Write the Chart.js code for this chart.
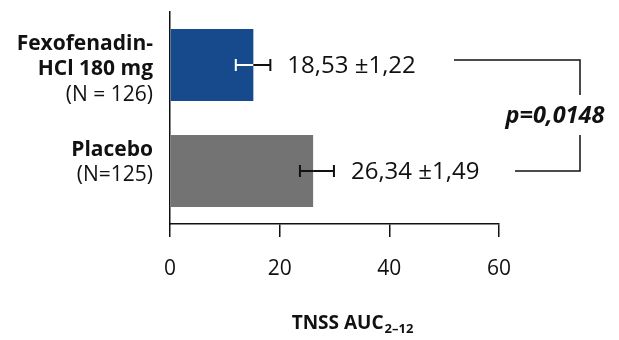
<!DOCTYPE html>
<html>
<head>
<meta charset="utf-8">
<script src="https://cdn.jsdelivr.net/npm/chart.js@4.4.1/dist/chart.umd.min.js"></script>
<style>
  html, body { margin: 0; padding: 0; background: #fff; }
</style>
</head>
<body>
<canvas id="myChart" width="619" height="340"></canvas>
<script>
// data (bar lengths as drawn, labels as printed)
const categoryNames = [['Fexofenadin-', 'HCl 180 mg'], ['Placebo']];
const categoryN = ['(N = 126)', '(N=125)'];
const barValues = [15.2, 26.1];
const errorLow = [12.0, 23.7];
const errorHigh = [18.3, 29.9];
const means = [18.53, 26.34];
const sems = [1.22, 1.49];
const xTicks = [0, 20, 40, 60];
const pValue = 'p=0,0148';

const barColors = ['#174a8c', '#737373'];
const errInside = ['#ffffff', '#111111'];
const FONT = '"Open Sans", "DejaVu Sans", sans-serif';

function fmt(v) {
    return v.toFixed(2).replace('.', ',');
}

const overlay = {
    id: 'overlay',
    afterDatasetsDraw(chart) {
        const ctx = chart.ctx;
        const x = chart.scales.x;
        const meta = chart.getDatasetMeta(0);
        ctx.save();
        ctx.lineCap = 'butt';

        meta.data.forEach((bar, i) => {
            const yc = bar.y;
            const xl = x.getPixelForValue(errorLow[i]);
            const xh = x.getPixelForValue(errorHigh[i]);
            const xe = bar.x;
            ctx.lineWidth = 2;

            // part of the error bar that sits on the bar
            ctx.strokeStyle = errInside[i];
            ctx.beginPath();
            ctx.moveTo(xl, yc);
            ctx.lineTo(Math.min(xe, xh), yc);
            ctx.moveTo(xl, yc - 6);
            ctx.lineTo(xl, yc + 6);
            ctx.stroke();

            // part outside the bar
            ctx.strokeStyle = '#111';
            ctx.beginPath();
            ctx.moveTo(xe, yc);
            ctx.lineTo(xh, yc);
            ctx.moveTo(xh, yc - 6);
            ctx.lineTo(xh, yc + 6);
            ctx.stroke();

            // value label
            ctx.fillStyle = '#111';
            ctx.font = '24px ' + FONT;
            ctx.textAlign = 'left';
            ctx.textBaseline = 'middle';
            ctx.fillText(fmt(means[i]) + ' \u00b1' + fmt(sems[i]), xh + 17, yc + 1);

            // category label on the left
            const top = bar.y - bar.height / 2;
            const lines = categoryNames[i].map(t => [t, 'bold']).concat([[categoryN[i], 'normal']]);
            ctx.textAlign = 'right';
            lines.forEach((ln, k) => {
                ctx.font = ln[1] + ' 21px ' + FONT;
                ctx.fillText(ln[0], 153, top + 15 + k * 25.5);
            });
        });

        // p-value bracket
        const y0 = meta.data[0].y - 5;
        const y1 = meta.data[1].y;
        const mid = (meta.data[0].y + meta.data[1].y) / 2;
        ctx.strokeStyle = '#111';
        ctx.lineWidth = 1.5;
        ctx.beginPath();
        ctx.moveTo(454, y0);
        ctx.lineTo(580, y0);
        ctx.lineTo(580, mid - 23);
        ctx.moveTo(580, mid + 17);
        ctx.lineTo(580, y1);
        ctx.lineTo(515, y1);
        ctx.stroke();

        ctx.font = 'italic bold 23.5px ' + FONT;
        ctx.textAlign = 'center';
        ctx.textBaseline = 'middle';
        ctx.fillStyle = '#111';
        ctx.fillText(pValue, 555, mid - 2);

        // axis title with subscript
        const main = 'TNSS AUC';
        const sub = '2\u201312';
        ctx.font = 'bold 19px ' + FONT;
        const w1 = ctx.measureText(main).width;
        ctx.font = 'bold 13px ' + FONT;
        const w2 = ctx.measureText(sub).width;
        const sx = 352 - (w1 + w2) / 2;
        ctx.textAlign = 'left';
        ctx.textBaseline = 'alphabetic';
        ctx.font = 'bold 19px ' + FONT;
        ctx.fillText(main, sx, 329);
        ctx.font = 'bold 13px ' + FONT;
        ctx.fillText(sub, sx + w1 + 1, 333);

        ctx.restore();
    }
};

const ctx = document.getElementById('myChart').getContext('2d');
const myChart = new Chart(ctx, {
    type: 'bar',
    data: {
        labels: categoryNames.map(n => n.join(' ')),
        datasets: [{
            data: barValues,
            backgroundColor: barColors,
            borderWidth: 0,
            categoryPercentage: 1,
            barPercentage: 0.68
        }]
    },
    options: {
        indexAxis: 'y',
        responsive: false,
        animation: false,
        devicePixelRatio: 1,
        layout: { padding: { left: 170, right: 120, top: 12, bottom: 0 } },
        plugins: {
            legend: { display: false },
            tooltip: { enabled: false }
        },
        scales: {
            x: {
                min: 0,
                max: 60,
                afterBuildTicks: (scale) => {
                    scale.ticks = xTicks.map(v => ({ value: v }));
                },
                afterFit: (scale) => { scale.height = 116; },
                grid: {
                    drawOnChartArea: false,
                    drawTicks: true,
                    tickLength: 13,
                    color: '#111',
                    lineWidth: 1.5
                },
                border: { color: '#111', width: 1.5 },
                ticks: {
                    color: '#111',
                    padding: 19,
                    maxRotation: 0,
                    font: { family: FONT, size: 21 }
                }
            },
            y: {
                afterFit: (scale) => { scale.width = 0; },
                grid: { display: false, drawTicks: false },
                border: { color: '#111', width: 1.5 },
                ticks: { display: false }
            }
        }
    },
    plugins: [overlay]
});
</script>
</body>
</html>
